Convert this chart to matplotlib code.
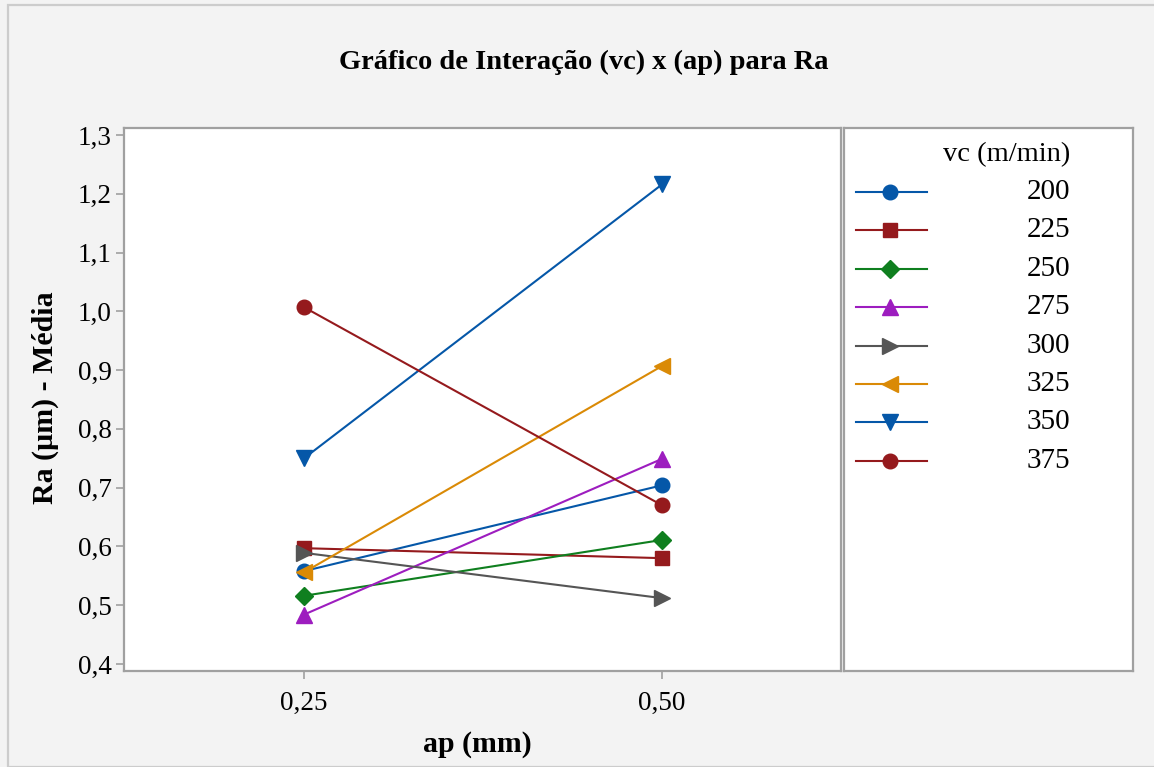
import matplotlib
matplotlib.use("Agg")
import matplotlib.pyplot as plt
from matplotlib.patches import Rectangle
from matplotlib.lines import Line2D

# Interaction data: mean Ra (µm) for each cutting speed vc at two depths of cut ap
ap_labels = ["0,25", "0,50"]
vc_levels = ["200", "225", "250", "275", "300", "325", "350", "375"]
ra_ap025 = [0.558, 0.597, 0.516, 0.484, 0.589, 0.556, 0.750, 1.007]
ra_ap050 = [0.704, 0.580, 0.611, 0.749, 0.512, 0.907, 1.216, 0.670]

colors = ["#0557A8", "#951A1D", "#0F7F1F", "#9D1DBF", "#555555", "#DA8A06", "#0557A8", "#951A1D"]
markers = ["o", "s", "D", "^", ">", "<", "v", "o"]
msizes = [10.5, 10, 9, 11.5, 11.5, 11.5, 11.5, 10.5]

yticks = [0.4, 0.5, 0.6, 0.7, 0.8, 0.9, 1.0, 1.1, 1.2, 1.3]

plt.rcParams["font.family"] = ["Liberation Serif", "DejaVu Serif"]

W, H = 1154, 767
fig = plt.figure(figsize=(W / 100, H / 100), dpi=100)
fig.patch.set_facecolor("#f3f3f3")

# outer frame
fig.patches.append(Rectangle((8 / W, 0), 1.2, 1 - 5 / H, transform=fig.transFigure,
                             fill=False, edgecolor="#cccccc", linewidth=1.6))

spine_col = "#a0a0a0"
ax = fig.add_axes([124 / W, 1 - 671 / H, (841 - 124) / W, (671 - 128) / H])
ax.set_facecolor("white")
xpos = list(range(len(ap_labels)))
for vals0, vals1, c, m, ms in zip(ra_ap025, ra_ap050, colors, markers, msizes):
    ax.plot(xpos, [vals0, vals1], color=c, marker=m, markersize=ms, linewidth=1.5,
            markeredgecolor=c, markerfacecolor=c, clip_on=False, zorder=3)

ax.set_xlim(-0.503, 1.5)
ax.set_ylim(0.388, 1.312)
ax.set_xticks(xpos)
ax.set_xticklabels(ap_labels)
ax.set_yticks(yticks)
ax.set_yticklabels([f"{v:.1f}".replace(".", ",") for v in yticks])
for s in ax.spines.values():
    s.set_color(spine_col)
    s.set_linewidth(1.6)
ax.tick_params(axis="both", colors=spine_col, labelcolor="black", labelsize=19.5,
               width=1.2, length=6, direction="out")
ax.tick_params(axis="x", pad=8)
ax.tick_params(axis="y", pad=3)

fig.text(584 / W, 1 - 62 / H, "Gráfico de Interação (vc) x (ap) para Ra",
         ha="center", va="center", fontsize=20.5, fontweight="bold")
fig.text(477 / W, 1 - 745 / H, "ap (mm)", ha="center", va="center",
         fontsize=21.5, fontweight="bold")
fig.text(45 / W, 1 - 398 / H, "Ra (µm) - Média", ha="center", va="center",
         rotation=90, fontsize=21.5, fontweight="bold")

# legend panel
lax = fig.add_axes([844 / W, 1 - 671 / H, (1133 - 844) / W, (671 - 128) / H])
lax.set_facecolor("white")
lax.set_xlim(844, 1133)
lax.set_ylim(671, 128)
lax.set_xticks([])
lax.set_yticks([])
for s in lax.spines.values():
    s.set_color(spine_col)
    s.set_linewidth(1.6)
lax.text(1070, 155, "vc (m/min)", ha="right", va="center", fontsize=20.5)
for i, (lab, c, m, ms) in enumerate(zip(vc_levels, colors, markers, msizes)):
    yy = 192 + i * 38.4
    lax.add_line(Line2D([856, 927], [yy, yy], color=c, linewidth=1.5))
    lax.add_line(Line2D([890], [yy], color=c, marker=m, markersize=ms,
                        markeredgecolor=c, markerfacecolor=c))
    lax.text(1070, yy, lab, ha="right", va="center", fontsize=21)

fig.savefig("out.png", dpi=100, facecolor=fig.get_facecolor())
